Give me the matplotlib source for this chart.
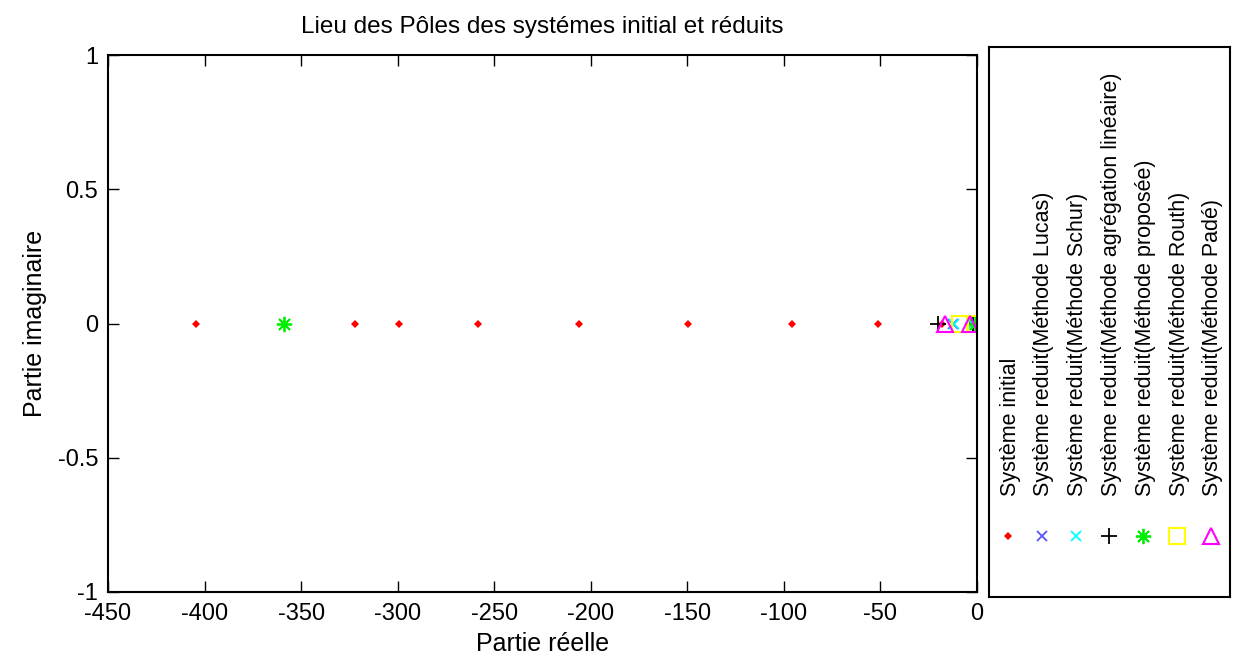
import matplotlib
matplotlib.use("Agg")
import matplotlib.pyplot as plt

plt.rcParams["font.family"] = ["Liberation Sans", "DejaVu Sans"]

# poles (real parts; all imaginary parts are zero)
poles_initial = [-404.4, -322.1, -299.3, -258.4, -206.1, -149.6, -95.8, -51.2, -18.0, -3.0]
poles_lucas = [-12.5, -2.5]
poles_schur = [-12.0, -2.2]
poles_agreg = [-20.2, -2.0]
poles_proposee = [-358.9, -1.2]
poles_routh = [-9.0, -1.0]
poles_pade = [-16.5, -3.5]

labels = [
    "Système initial",
    "Système reduit(Méthode Lucas)",
    "Système reduit(Méthode Schur)",
    "Système reduit(Méthode agrégation linéaire)",
    "Système reduit(Méthode proposée)",
    "Système reduit(Méthode Routh)",
    "Système reduit(Méthode Padé)",
]
x_ticks = [-450, -400, -350, -300, -250, -200, -150, -100, -50, 0]
y_ticks = [-1, -0.5, 0, 0.5, 1]

styles = [
    dict(marker="D", ms=4, color="red", mfc="red", mew=0),
    dict(marker="x", ms=7, color="#5555ff", mfc="none", mew=1.3),
    dict(marker="x", ms=7, color="cyan", mfc="none", mew=1.3),
    dict(marker="+", ms=11, color="black", mfc="none", mew=1.3),
    dict(marker=(8, 2, 0), ms=11, color="#00ee00", mfc="none", mew=1.3),
    dict(marker="s", ms=11, color="yellow", mfc="none", mew=1.5),
    dict(marker="^", ms=11, color="magenta", mfc="none", mew=1.5),
]
series = [poles_initial, poles_lucas, poles_schur, poles_agreg,
          poles_proposee, poles_routh, poles_pade]

fig = plt.figure(figsize=(12.34, 6.64), dpi=100)
W, H = 1234, 664
ax = fig.add_axes([108 / W, 1 - 592 / H, (977 - 108) / W, (592 - 55) / H])

for p, st in zip(series, styles):
    ax.plot(p, [0] * len(p), ls="none", **st)

ax.set_xlim(-450, 0)
ax.set_ylim(-1, 1)
ax.set_xticks(x_ticks)
ax.set_xticklabels([str(v) for v in x_ticks])
ax.set_yticks(y_ticks)
ax.set_yticklabels(["-1", "-0.5", "0", "0.5", "1"])
ax.tick_params(direction="in", top=True, right=True, length=8, width=1,
               labelsize=17)
ax.tick_params(axis="x", pad=8)
ax.tick_params(axis="y", pad=7)
for s in ax.spines.values():
    s.set_linewidth(1.5)
ax.set_xlabel("Partie réelle", fontsize=18, labelpad=5)
ax.set_ylabel("Partie imaginaire", fontsize=18, labelpad=8)
ax.set_title("Lieu des Pôles des systémes initial et réduits", fontsize=17.5, pad=16)

# vertical legend box on the right
lg = fig.add_axes([989 / W, 1 - 597 / H, (1230 - 989) / W, (597 - 47) / H])
lg.set_xlim(989, 1230)
lg.set_ylim(597, 47)
lg.set_xticks([])
lg.set_yticks([])
for s in lg.spines.values():
    s.set_linewidth(1.5)
for i, (lab, st) in enumerate(zip(labels, styles)):
    xc = 1008 + i * 33.8
    lg.plot([xc], [536], ls="none", **st)
    lg.text(xc + 2, 496, lab, rotation=90, ha="center", va="bottom", fontsize=15.5)

fig.savefig("out.png", dpi=100)
